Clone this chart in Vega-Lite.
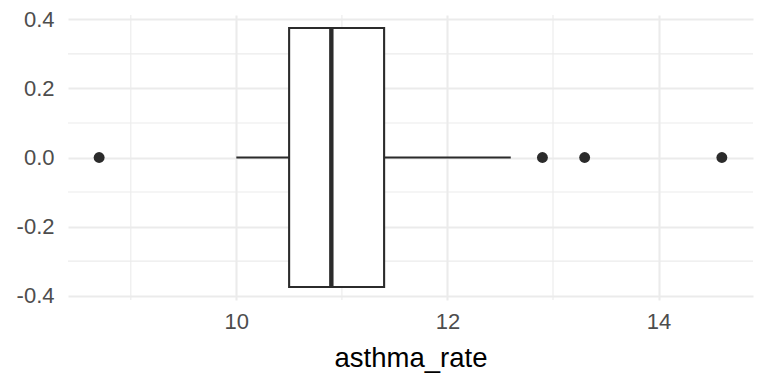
{
  "$schema": "https://vega.github.io/schema/vega-lite/v6.json",
  "width": 685,
  "height": 285,
  "autosize": "none",
  "padding": {"left": 68, "top": 15, "right": 15, "bottom": 84},
  "background": "white",
  "config": {
    "view": {"stroke": null},
    "font": "Liberation Sans",
    "axis": {
      "domain": false,
      "ticks": false,
      "tickSize": 0,
      "gridColor": "#EBEBEB",
      "gridWidth": 2.1,
      "labelColor": "#4D4D4D",
      "labelFontSize": 22,
      "labelFont": "Liberation Sans",
      "titleFont": "Liberation Sans",
      "titleFontWeight": "normal",
      "titleColor": "#000000",
      "titleFontSize": 27.5
    }
  },
  "datasets": {
    "box": [{"lower": 10.0, "q1": 10.5, "median": 10.9, "q3": 11.4, "upper": 12.6, "ymin": -0.375, "ymax": 0.375, "mid": 0}],
    "outliers": [
      {"asthma_rate": 8.7, "y": 0},
      {"asthma_rate": 12.9, "y": 0},
      {"asthma_rate": 13.3, "y": 0},
      {"asthma_rate": 14.6, "y": 0}
    ],
    "minorx": [{"v": 9}, {"v": 11}, {"v": 13}],
    "minory": [{"v": -0.3}, {"v": -0.1}, {"v": 0.1}, {"v": 0.3}]
  },
  "layer": [
    {
      "data": {"name": "minorx"},
      "mark": {"type": "rule", "color": "#EBEBEB", "strokeWidth": 1.1},
      "encoding": {
        "x": {"field": "v", "type": "quantitative", "scale": {"domain": [8.405, 14.895], "nice": false, "zero": false}}
      }
    },
    {
      "data": {"name": "minory"},
      "mark": {"type": "rule", "color": "#EBEBEB", "strokeWidth": 1.1},
      "encoding": {
        "y": {"field": "v", "type": "quantitative", "scale": {"domain": [-0.4125, 0.4125], "nice": false, "zero": false}}
      }
    },
    {
      "data": {"name": "box"},
      "mark": {"type": "rule", "color": "#2B2B2B", "strokeWidth": 2.1},
      "encoding": {
        "x": {"field": "lower", "type": "quantitative", "title": "asthma_rate",
              "scale": {"domain": [8.405, 14.895], "nice": false, "zero": false},
              "axis": {"values": [10, 12, 14], "labelPadding": 11, "titlePadding": 12, "format": "d", "labelFlush": false}},
        "x2": {"field": "upper"},
        "y": {"field": "mid", "type": "quantitative", "title": null,
              "scale": {"domain": [-0.4125, 0.4125], "nice": false, "zero": false},
              "axis": {"values": [-0.4, -0.2, 0, 0.2, 0.4], "labelExpr": "replace(format(datum.value, '.1f'), '\u2212', '-')", "labelPadding": 14, "labelFlush": false}}
      }
    },
    {
      "data": {"name": "box"},
      "mark": {"type": "rect", "fill": "white", "stroke": "#2B2B2B", "strokeWidth": 2.1},
      "encoding": {
        "x": {"field": "q1", "type": "quantitative"},
        "x2": {"field": "q3"},
        "y": {"field": "ymin", "type": "quantitative"},
        "y2": {"field": "ymax"}
      }
    },
    {
      "data": {"name": "box"},
      "mark": {"type": "rule", "color": "#2B2B2B", "strokeWidth": 4.4},
      "encoding": {
        "x": {"field": "median", "type": "quantitative"},
        "y": {"field": "ymin", "type": "quantitative"},
        "y2": {"field": "ymax"}
      }
    },
    {
      "data": {"name": "outliers"},
      "mark": {"type": "circle", "color": "#2B2B2B", "opacity": 1, "size": 119},
      "encoding": {
        "x": {"field": "asthma_rate", "type": "quantitative"},
        "y": {"field": "y", "type": "quantitative"}
      }
    }
  ]
}
